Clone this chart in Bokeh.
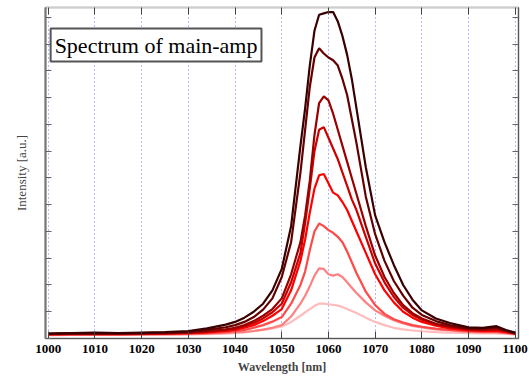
from bokeh.plotting import figure
from bokeh.models import Range1d, LinearAxis, FixedTicker, Label, CustomJSTickFormatter
from bokeh.embed import file_html
from bokeh.resources import INLINE

wavelength = [1000, 1005, 1010, 1015, 1020, 1025, 1030, 1034, 1038, 1040, 1042, 1044, 1046, 1048,
              1050, 1052, 1054, 1055, 1056, 1057, 1058, 1059, 1060, 1061, 1062, 1063, 1064, 1065,
              1066, 1068, 1070, 1072, 1074, 1076, 1078, 1080, 1083, 1086, 1090, 1093, 1096, 1098, 1100]

s1 = [0.18, 0.20, 0.22, 0.20, 0.22, 0.24, 0.28, 0.38, 0.52, 0.62, 0.78, 1.00, 1.30, 1.80,
      2.60, 4.20, 7.20, 8.60, 10.20, 11.50, 12.10, 12.15, 12.20, 12.20, 11.85, 11.30, 10.60, 9.70,
      8.60, 6.40, 4.60, 3.60, 2.75, 2.00, 1.45, 1.05, 0.75, 0.58, 0.42, 0.40, 0.46, 0.32, 0.22]
s2 = [0.17, 0.19, 0.20, 0.19, 0.20, 0.22, 0.25, 0.32, 0.42, 0.50, 0.62, 0.80, 1.08, 1.50,
      2.30, 3.60, 6.20, 7.80, 9.40, 10.50, 10.85, 10.65, 10.50, 10.40, 10.20, 9.70, 9.10, 8.20,
      7.30, 5.30, 3.90, 2.90, 2.15, 1.60, 1.15, 0.88, 0.65, 0.50, 0.38, 0.37, 0.42, 0.30, 0.20]
s3 = [0.17, 0.18, 0.19, 0.18, 0.19, 0.20, 0.22, 0.27, 0.34, 0.40, 0.50, 0.65, 0.85, 1.10,
      1.50, 2.40, 3.60, 4.60, 5.90, 7.60, 8.80, 9.05, 8.90, 8.40, 7.80, 7.20, 6.60, 6.00,
      5.40, 4.20, 3.10, 2.30, 1.70, 1.25, 0.95, 0.75, 0.55, 0.45, 0.35, 0.33, 0.36, 0.28, 0.20]
s4 = [0.16, 0.17, 0.18, 0.17, 0.18, 0.19, 0.21, 0.25, 0.31, 0.36, 0.45, 0.58, 0.75, 0.98,
      1.30, 2.10, 3.20, 4.30, 5.60, 7.00, 7.80, 7.90, 7.50, 7.10, 6.70, 6.20, 5.70, 5.20,
      4.80, 3.80, 2.80, 2.10, 1.55, 1.15, 0.88, 0.70, 0.52, 0.42, 0.33, 0.31, 0.33, 0.26, 0.19]
s5 = [0.15, 0.16, 0.17, 0.16, 0.17, 0.18, 0.20, 0.23, 0.28, 0.32, 0.40, 0.50, 0.65, 0.85,
      1.10, 1.80, 2.90, 3.70, 4.70, 5.60, 6.10, 6.15, 5.80, 5.45, 5.35, 5.10, 4.80, 4.40,
      4.00, 3.20, 2.40, 1.80, 1.35, 1.00, 0.78, 0.62, 0.48, 0.38, 0.30, 0.28, 0.29, 0.24, 0.18]
s6 = [0.14, 0.15, 0.16, 0.15, 0.16, 0.17, 0.18, 0.20, 0.24, 0.27, 0.32, 0.40, 0.50, 0.63,
      0.80, 1.30, 2.00, 2.50, 3.30, 4.00, 4.30, 4.20, 4.05, 3.95, 3.80, 3.60, 3.25, 2.85,
      2.45, 1.75, 1.25, 0.92, 0.72, 0.60, 0.50, 0.44, 0.37, 0.32, 0.27, 0.25, 0.25, 0.22, 0.17]
s7 = [0.13, 0.14, 0.15, 0.14, 0.15, 0.15, 0.16, 0.18, 0.21, 0.23, 0.25, 0.28, 0.33, 0.40,
      0.50, 0.82, 1.30, 1.60, 1.95, 2.35, 2.62, 2.60, 2.40, 2.35, 2.40, 2.30, 2.10, 1.90,
      1.70, 1.35, 1.05, 0.85, 0.68, 0.56, 0.47, 0.41, 0.34, 0.30, 0.25, 0.23, 0.23, 0.20, 0.16]
s8 = [0.12, 0.13, 0.13, 0.13, 0.13, 0.14, 0.15, 0.16, 0.18, 0.20, 0.23, 0.27, 0.32, 0.38,
      0.45, 0.62, 0.85, 0.98, 1.10, 1.22, 1.30, 1.30, 1.28, 1.26, 1.23, 1.18, 1.10, 1.03,
      0.95, 0.78, 0.62, 0.50, 0.40, 0.34, 0.30, 0.27, 0.24, 0.22, 0.20, 0.19, 0.19, 0.17, 0.15]

series = [s8, s7, s6, s5, s4, s3, s2, s1]
colors = ["#ffbcbc", "#ff8080", "#ff4848", "#ff0000", "#cc0000", "#990000", "#660000", "#3a0000"]

x_ticks = [1000, 1010, 1020, 1030, 1040, 1050, 1060, 1070, 1080, 1090, 1100]
y_ticks = [0, 1, 2, 3, 4, 5, 6, 7, 8, 9, 10, 11, 12]

blank = CustomJSTickFormatter(code="return ''")

p = figure(width=529, height=376, output_backend="svg", toolbar_location=None,
           x_range=Range1d(999.4, 1100.7), y_range=Range1d(0, 12.37),
           min_border_left=45, min_border_right=11, min_border_top=7, min_border_bottom=10)
p.background_fill_color = "white"
p.border_fill_color = "white"
p.outline_line_color = "#7a7a7a"
p.outline_line_width = 1.5

for ys, c in zip(series, colors):
    p.line(wavelength, ys, line_color=c, line_width=2.2)

p.xaxis.ticker = FixedTicker(ticks=x_ticks)
p.xaxis.major_tick_in = 7
p.xaxis.major_tick_out = 0
p.xaxis.minor_tick_line_color = None
p.xaxis.axis_line_color = "#555555"
p.xaxis.major_tick_line_color = "#444444"
p.xaxis.major_label_text_font = "Liberation Serif"
p.xaxis.major_label_text_font_style = "bold"
p.xaxis.major_label_text_font_size = "13px"
p.xaxis.major_label_text_color = "black"
p.xaxis.major_label_standoff = 6
p.xaxis.axis_label = "Wavelength [nm]"
p.xaxis.axis_label_text_font = "Liberation Serif"
p.xaxis.axis_label_text_font_style = "bold"
p.xaxis.axis_label_text_font_size = "12px"
p.xaxis.axis_label_standoff = 4

p.yaxis.ticker = FixedTicker(ticks=y_ticks)
p.yaxis.formatter = blank
p.yaxis.major_tick_in = 6
p.yaxis.major_tick_out = 0
p.yaxis.minor_tick_line_color = None
p.yaxis.axis_line_color = "#777777"
p.yaxis.axis_line_width = 2
p.yaxis.major_tick_line_color = "#666666"
p.yaxis.major_label_standoff = 0
p.yaxis.axis_label = "Intensity [a.u.]"
p.yaxis.axis_label_text_font = "Liberation Serif"
p.yaxis.axis_label_text_font_style = "normal"
p.yaxis.axis_label_text_font_size = "13px"
p.yaxis.axis_label_standoff = 17

top = LinearAxis(ticker=FixedTicker(ticks=x_ticks), formatter=blank,
                 major_tick_in=7, major_tick_out=0, major_label_standoff=0,
                 minor_tick_line_color=None,
                 axis_line_color="#cccccc", major_tick_line_color="#444444")
p.add_layout(top, "above")
right = LinearAxis(ticker=FixedTicker(ticks=y_ticks), formatter=blank,
                   major_tick_in=6, major_tick_out=0, major_label_standoff=0,
                   minor_tick_line_color=None,
                   axis_line_color="#555555", major_tick_line_color="#666666")
p.add_layout(right, "right")

p.xgrid.ticker = FixedTicker(ticks=x_ticks)
p.xgrid.grid_line_color = "#7070ff"
p.xgrid.grid_line_dash = "1 3"
p.xgrid.grid_line_width = 1
p.ygrid.grid_line_color = None

title = Label(x=1000.5, y=10.35, text="Spectrum of main-amp",
              text_font="Liberation Serif", text_font_size="22px", text_color="black",
              text_baseline="bottom", text_align="left",
              border_line_color="#555555", border_line_width=2,
              background_fill_color="white", padding=4)
p.add_layout(title)

open("out.html", "w").write(file_html(p, INLINE))
